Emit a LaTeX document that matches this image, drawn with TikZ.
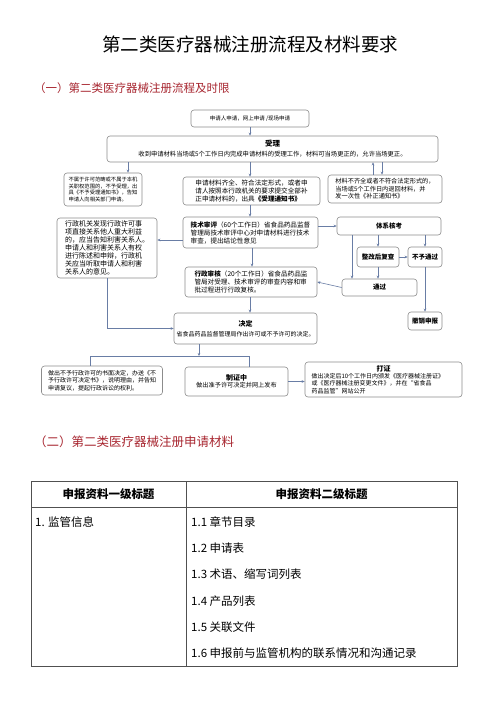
\documentclass[tikz,border=0pt]{standalone}
\usepackage{fontspec}
\setmainfont{Noto Sans CJK SC}
\usetikzlibrary{arrows.meta}
\definecolor{hdred}{RGB}{168,38,48}
\definecolor{boxline}{RGB}{140,140,140}
\definecolor{arrcol}{RGB}{105,125,165}
\definecolor{tblline}{RGB}{80,80,80}
\begin{document}
\begin{tikzpicture}[x=1pt,y=1pt,
  box/.style={draw=boxline, line width=0.6pt, rounded corners=3pt, inner sep=0pt},
  arr/.style={draw=arrcol, line width=0.6pt, -{Stealth[length=3pt,width=2.6pt]}},
  ln/.style={draw=arrcol, line width=0.6pt},
  tbl/.style={draw=tblline, line width=1pt},
  ttext/.style={anchor=west, inner sep=0pt, font=\fontsize{11.5}{13}\selectfont},
  hdr/.style={anchor=west, inner sep=0pt, text=hdred},
]
\useasboundingbox (0,0) rectangle (500,-707);
\fill[white] (0,0) rectangle (500,-707);

% titles
\node[inner sep=0pt, font=\fontsize{18.5}{20}\selectfont] (title) at (250,-44) {第二类医疗器械注册流程及材料要求};
\node[hdr, font=\fontsize{11.5}{13}\selectfont] (sec1) at (34,-88) {（一）第二类医疗器械注册流程及时限};
\node[hdr, font=\fontsize{12.5}{14}\selectfont] (sec2) at (34,-442) {（二）第二类医疗器械注册申请材料};

% flowchart boxes
\node[box, minimum width=118, minimum height=17, font=\fontsize{5.5}{6.5}\selectfont] (apply) at (250,-118.5) {申请人申请，网上申请~/现场申请};
\node[box, minimum width=331, minimum height=26, text width=320, align=center, font=\fontsize{6.3}{7.5}\selectfont] (accept) at (272.5,-149)
  {{\fontsize{7.5}{8}\selectfont\bfseries 受理}\\[2.5pt]收到申请材料当场或5个工作日内完成申请材料的受理工作，材料可当场更正的，允许当场更正。};
\node[box, minimum width=78, minimum height=33, align=left, font=\fontsize{5.3}{6.4}\selectfont] (reject1) at (103,-189.5)
  {不属于许可范畴或不属于本机\\关职权范围的，不予受理，出\\具《不予受理通知书》，告知\\申请人向相关部门申请。};
\node[box, minimum width=137, minimum height=28, align=left, font=\fontsize{6.6}{8}\selectfont] (notice) at (251.5,-191)
  {申请材料齐全、符合法定形式，或者申\\请人按照本行政机关的要求提交全部补\\正申请材料的，出具{\bfseries《受理通知书》}};
\node[box, minimum width=114, minimum height=28, align=left, font=\fontsize{6.2}{7.6}\selectfont] (fix) at (385,-189)
  {材料不齐全或者不符合法定形式的，\\当场或5个工作日内退回材料，并\\发一次性《补正通知书》};
\node[box, minimum width=135, minimum height=31, align=left, font=\fontsize{6.6}{8}\selectfont] (tech) at (250.5,-232.5)
  {{\bfseries 技术审评}（60个工作日）省食品药品监督\\管理局技术审评中心对申请材料进行技术\\审查，提出结论性意见};
\node[box, minimum width=100, minimum height=60, align=left, font=\fontsize{7}{7.9}\selectfont] (tall) at (107,-248)
  {行政机关发现行政许可事\\项直接关系他人重大利益\\的，应当告知利害关系人。\\申请人和利害关系人有权\\进行陈述和申辩，行政机\\关应当听取申请人和利害\\关系人的意见。};
\node[box, minimum width=104, minimum height=18, font=\fontsize{6.5}{7}\selectfont\bfseries] (system) at (389,-226) {体系核考};
\node[box, minimum width=42, minimum height=20, font=\fontsize{6.5}{7}\selectfont\bfseries] (rectify) at (378,-257) {整改后复查};
\node[box, minimum width=34, minimum height=20, font=\fontsize{6.5}{7}\selectfont\bfseries] (buyu) at (425,-257) {不予通过};
\node[box, minimum width=75, minimum height=17, font=\fontsize{6.5}{7}\selectfont\bfseries] (tongguo) at (379.5,-287.5) {通过};
\node[box, minimum width=34, minimum height=18, font=\fontsize{6.5}{7}\selectfont\bfseries] (revoke) at (425,-321) {撤销申报};
\node[box, minimum width=132, minimum height=30, align=left, font=\fontsize{6.6}{8}\selectfont] (admin) at (251,-282)
  {{\bfseries 行政审核}（20个工作日）省食品药品监\\管局对受理、技术审评的审查内容和审\\批过程进行行政复核。};
\node[box, minimum width=143, minimum height=31, text width=140, align=center, font=\fontsize{6}{7}\selectfont] (decision) at (245.5,-328.5)
  {{\fontsize{7}{8}\selectfont\bfseries 决定}\\[3pt]省食品药品监督管理局作出许可或不予许可的决定。};
\node[box, minimum width=121, minimum height=29, align=left, font=\fontsize{6}{7.5}\selectfont] (denial) at (102,-380.5)
  {做出不予行政许可的书面决定，办送《不\\予行政许可决定书》，说明理由，并告知\\申请复议，提起行政诉讼的权利。};
\node[box, minimum width=103, minimum height=29, text width=95, align=center, font=\fontsize{6.2}{7.5}\selectfont] (cert) at (236.5,-381.5)
  {{\fontsize{7}{8}\selectfont\bfseries 制证中}\\做出准予许可决定并网上发布};
\node[box, minimum width=157, minimum height=35, align=left, font=\fontsize{6}{7.3}\selectfont] (print) at (383.5,-379.5)
  {\makebox[144pt][c]{\fontsize{7}{8}\selectfont\bfseries 打证}\\做出决定后10个工作日内颁发《医疗器械注册证》\\或《医疗器械注册变更文件》，并在“省食品\\药品监管”网站公开};

% helper coordinates
\coordinate (c128) at (128,0);
\coordinate (c250) at (250,0);
\coordinate (c252) at (252,0);
\coordinate (c373) at (373,0);
\coordinate (c382) at (382,0);
\coordinate (c352) at (352,0);
\coordinate (c107) at (107,0);
\coordinate (c199) at (199,0);
\coordinate (c90) at (90,0);
\coordinate (c249) at (249,0);
\coordinate (r240) at (0,-240);
\coordinate (r356) at (0,-356);

% connectors
\draw[arr] (apply.south) -- (apply.south |- accept.north);
\draw[arr] (accept.south -| c128) -- (reject1.north -| c128);
\draw[arr] (accept.south -| c250) -- (notice.north -| c250);
\draw[arr] (fix.north -| c373) -- (accept.south -| c373);
\draw[arr] (accept.south -| c382) -- (fix.north -| c382);
\draw[arr] (notice.south -| c250) -- (tech.north -| c250);
\draw[arr] (tech.west |- r240) -- (tall.east |- r240);
\draw[arr] (tech.east |- system.west) -- (system.west);
\draw[arr] (system.south -| c352) -- (tongguo.north -| c352);
\draw[arr] (system.south -| rectify.north) -- (rectify.north);
\draw[arr] (rectify.south) -- (tongguo.north -| rectify.south);
\draw[arr] (system.south -| buyu.north) -- (buyu.north);
\draw[arr] (rectify.east) -- (buyu.west);
\draw[arr] (buyu.south) -- (revoke.north);
\draw[arr] (tongguo.west) -- (admin.east);
\draw[arr] (tech.south -| c252) -- (admin.north -| c252);
\draw[arr] (tall.south -| c107) |- (decision.west);
\draw[arr] (admin.south -| c250) -- (decision.north -| c250);
\draw[arr] (decision.south -| c199) -- (c199 |- r356);
\draw[ln] (denial.north -| c90) -- (c90 |- r356) -- (c249 |- r356) -- (cert.north -| c249);
\draw[arr] (cert.east) -- (cert.east -| print.west);

% table
\draw[tbl] (31,-481) rectangle (457,-666);
\draw[tbl] (31,-507) -- (457,-507);
\draw[tbl] (186,-481) -- (186,-666);
\node[inner sep=0pt, font=\fontsize{11.5}{13}\selectfont\bfseries] (h1) at (108.5,-494) {申报资料一级标题};
\node[inner sep=0pt, font=\fontsize{11.5}{13}\selectfont\bfseries] (h2) at (321.5,-494) {申报资料二级标题};
\node[ttext] (a1) at (35,-522) {1. 监管信息};
\node[ttext] (b1) at (191,-522) {1.1 章节目录};
\node[ttext] (b2) at (191,-548) {1.2 申请表};
\node[ttext] (b3) at (191,-574) {1.3 术语、缩写词列表};
\node[ttext] (b4) at (191,-601) {1.4 产品列表};
\node[ttext] (b5) at (191,-627) {1.5 关联文件};
\node[ttext] (b6) at (191,-653) {1.6 申报前与监管机构的联系情况和沟通记录};
\end{tikzpicture}
\end{document}
